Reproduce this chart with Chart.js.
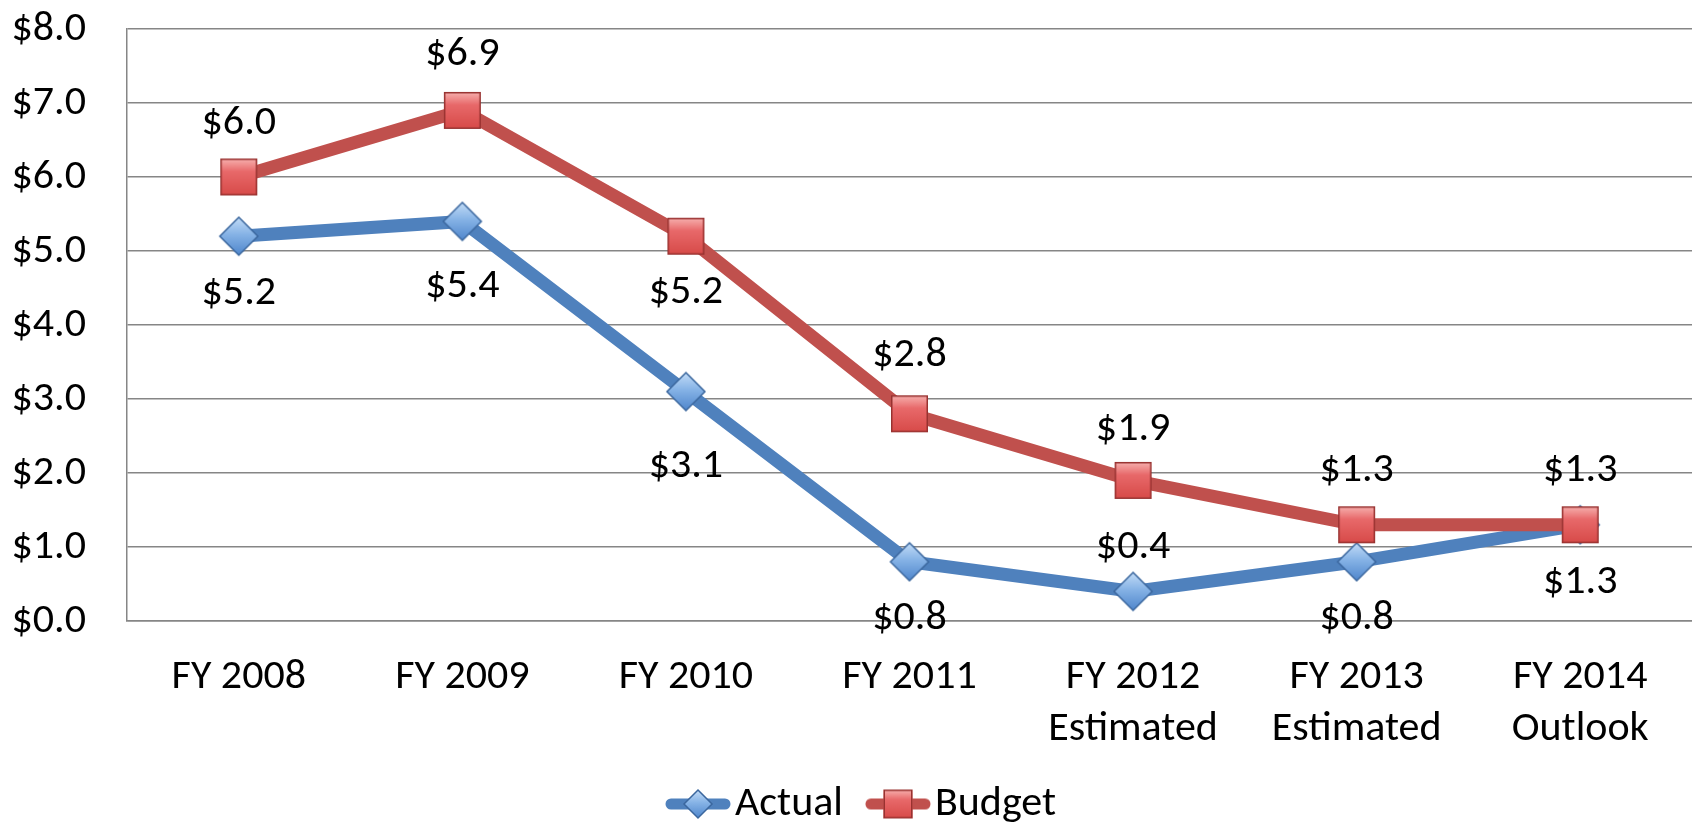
<!DOCTYPE html>
<html>
<head>
<meta charset="utf-8">
<script src="https://cdn.jsdelivr.net/npm/chart.js@4"></script>
<style>
  html, body { margin: 0; padding: 0; background: #ffffff; }
  #wrap { width: 1692px; height: 824px; }
</style>
</head>
<body>
<div id="wrap"><canvas id="fundChart" width="1692" height="824"></canvas></div>
<script>
const categories = [
  "FY 2008", "FY 2009", "FY 2010", "FY 2011",
  ["FY 2012", "Estimated"], ["FY 2013", "Estimated"], ["FY 2014", "Outlook"]
];
const actualValues = [5.2, 5.4, 3.1, 0.8, 0.4, 0.8, 1.3];
const budgetValues = [6.0, 6.9, 5.2, 2.8, 1.9, 1.3, 1.3];
const yTicks = [0, 1, 2, 3, 4, 5, 6, 7, 8];

// where each value label sits relative to its point (px, + is down)
const actualLabelShift = [57, 65, 75, 57, -44, 57, 58];
const budgetLabelShift = [-54, -56, 56, -58, -51, -54, -54];

const FONT = "Carlito, Calibri, Lato, sans-serif";
const FONT_SIZE = 42;

function formatMoney(value) {
  return "$" + Number(value).toFixed(1);
}

function makeSquare(size, withLine) {
  const w = withLine ? 66 : size + 4;
  const h = size + 4;
  const c = document.createElement("canvas");
  c.width = w;
  c.height = h;
  const ctx = c.getContext("2d");

  if (withLine) {
    ctx.strokeStyle = "#c0504d";
    ctx.lineWidth = 11;
    ctx.lineCap = "round";
    ctx.beginPath();
    ctx.moveTo(6, h / 2);
    ctx.lineTo(w - 6, h / 2);
    ctx.stroke();
  }

  const x = (w - size) / 2;
  const y = (h - size) / 2;
  const grad = ctx.createLinearGradient(0, y, 0, y + size);
  grad.addColorStop(0, "#f7b2b0");
  grad.addColorStop(0.35, "#e8696a");
  grad.addColorStop(1, "#d74a48");
  ctx.fillStyle = grad;
  ctx.fillRect(x, y, size, size);
  ctx.strokeStyle = "#983230";
  ctx.lineWidth = 1.5;
  ctx.strokeRect(x + 0.75, y + 0.75, size - 1.5, size - 1.5);
  return c;
}

function makeDiamond(size, withLine) {
  const w = withLine ? 66 : size + 4;
  const h = size + 4;
  const c = document.createElement("canvas");
  c.width = w;
  c.height = h;
  const ctx = c.getContext("2d");

  if (withLine) {
    ctx.strokeStyle = "#4f81bd";
    ctx.lineWidth = 11;
    ctx.lineCap = "round";
    ctx.beginPath();
    ctx.moveTo(6, h / 2);
    ctx.lineTo(w - 6, h / 2);
    ctx.stroke();
  }

  const cx = w / 2;
  const cy = h / 2;
  const r = size / 2;
  const grad = ctx.createLinearGradient(0, cy - r, 0, cy + r);
  grad.addColorStop(0, "#c3dcf7");
  grad.addColorStop(0.45, "#86b3e6");
  grad.addColorStop(1, "#4f86cc");
  ctx.beginPath();
  ctx.moveTo(cx, cy - r);
  ctx.lineTo(cx + r, cy);
  ctx.lineTo(cx, cy + r);
  ctx.lineTo(cx - r, cy);
  ctx.closePath();
  ctx.fillStyle = grad;
  ctx.fill();
  ctx.strokeStyle = "#3b679e";
  ctx.lineWidth = 1.5;
  ctx.stroke();
  return c;
}

const squarePoint = makeSquare(37, false);
const diamondPoint = makeDiamond(38, false);
const squareLegend = makeSquare(29, true);
const diamondLegend = makeDiamond(28, true);

const valueLabels = {
  id: "valueLabels",
  afterDatasetsDraw(chart) {
    const ctx = chart.ctx;
    ctx.save();
    ctx.font = `${FONT_SIZE}px ${FONT}`;
    ctx.fillStyle = "#000000";
    ctx.textAlign = "center";
    ctx.textBaseline = "middle";

    chart.data.datasets.forEach((dataset, i) => {
      const meta = chart.getDatasetMeta(i);
      const shifts = i === 0 ? actualLabelShift : budgetLabelShift;
      meta.data.forEach((point, j) => {
        ctx.fillText(formatMoney(dataset.data[j]), point.x, point.y + shifts[j]);
      });
    });

    ctx.restore();
  }
};

// line-with-marker legend like the spreadsheet one, drawn under the axis labels
const lineLegend = {
  id: "lineLegend",
  afterDraw(chart) {
    const ctx = chart.ctx;
    const icons = [diamondLegend, squareLegend];
    const y = 804;
    let x = 665;

    ctx.save();
    ctx.font = `${FONT_SIZE}px ${FONT}`;
    ctx.fillStyle = "#000000";
    ctx.textAlign = "left";
    ctx.textBaseline = "middle";

    chart.data.datasets.forEach((dataset, i) => {
      const icon = icons[i];
      ctx.drawImage(icon, x, y - icon.height / 2);
      x += icon.width + 4;
      ctx.fillText(dataset.label, x, y);
      x += ctx.measureText(dataset.label).width + 22;
    });

    ctx.restore();
  }
};

new Chart(document.querySelector("#fundChart"), {
  type: "line",
  data: {
    labels: categories,
    datasets: [
      {
        label: "Actual",
        data: actualValues,
        borderColor: "#4f81bd",
        backgroundColor: "#4f81bd",
        borderWidth: 13,
        pointStyle: diamondPoint,
        pointRadius: 19,
        tension: 0,
        order: 2
      },
      {
        label: "Budget",
        data: budgetValues,
        borderColor: "#c0504d",
        backgroundColor: "#c0504d",
        borderWidth: 13,
        pointStyle: squarePoint,
        pointRadius: 19,
        tension: 0,
        order: 1
      }
    ]
  },
  options: {
    responsive: false,
    animation: false,
    devicePixelRatio: 1,
    layout: {
      autoPadding: false,
      padding: { top: 29, right: 0, bottom: 0, left: 0 }
    },
    plugins: {
      tooltip: { enabled: false },
      legend: { display: false }
    },
    scales: {
      x: {
        offset: true,
        grid: {
          display: true,
          drawOnChartArea: false,
          drawTicks: true,
          tickLength: 30,
          tickColor: "rgba(0,0,0,0)",
          color: "#868686",
          lineWidth: 1.5
        },
        border: { display: true, color: "#868686", width: 1.5 },
        ticks: {
          color: "#000000",
          padding: 0,
          maxRotation: 0,
          autoSkip: false,
          font: { family: FONT, size: FONT_SIZE, lineHeight: 1.24 }
        },
        afterFit(scale) {
          scale.height = 203;
          scale.paddingLeft = 0;
          scale.paddingRight = 0;
        }
      },
      y: {
        min: yTicks[0],
        max: yTicks[yTicks.length - 1],
        afterBuildTicks(scale) {
          scale.ticks = yTicks.map(v => ({ value: v }));
        },
        grid: {
          color: "#868686",
          lineWidth: 1.5,
          drawTicks: true,
          tickLength: 41,
          tickColor: "rgba(0,0,0,0)"
        },
        border: { display: true, color: "#868686", width: 1.5 },
        ticks: {
          color: "#000000",
          padding: 0,
          font: { family: FONT, size: FONT_SIZE },
          callback: value => formatMoney(value)
        },
        afterFit(scale) {
          scale.width = 127;
        }
      }
    }
  },
  plugins: [valueLabels, lineLegend]
});
</script>
</body>
</html>
